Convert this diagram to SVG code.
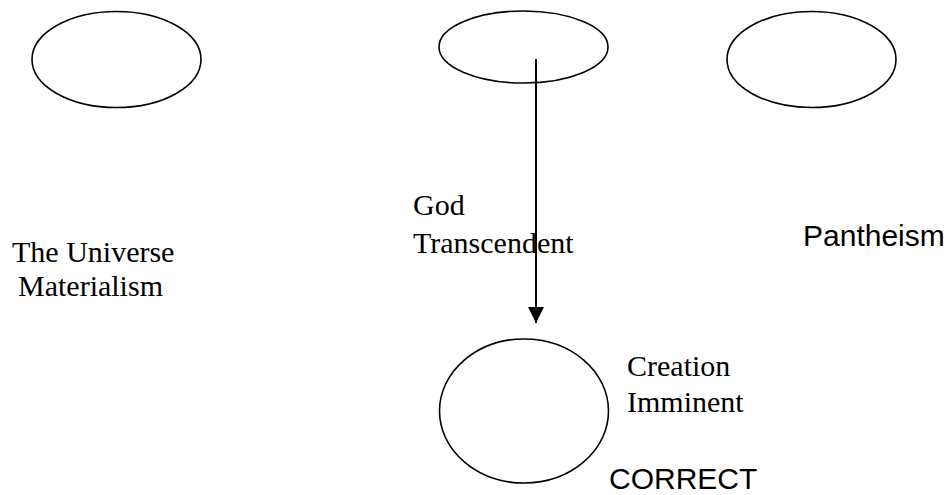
<svg xmlns="http://www.w3.org/2000/svg" width="946" height="495" viewBox="0 0 946 495">
<style>
.node{fill:none;stroke:#000;stroke-width:1.6}
.serif{font-family:"Liberation Serif","Times New Roman",serif;font-size:30px;fill:#000}
.sans{font-family:"Liberation Sans",Arial,sans-serif;font-size:30px;fill:#000}
.conn{stroke:#000;stroke-width:2;fill:none}
</style>
<defs>
<marker id="arrow" markerWidth="16" markerHeight="16" refX="16" refY="8" orient="auto" markerUnits="userSpaceOnUse">
<path d="M0,0 L16,8 L0,16 Z" fill="#000"/>
</marker>
</defs>
<rect width="946" height="495" fill="#fff"/>
<g id="universe">
<ellipse class="node" cx="116.5" cy="59.5" rx="84.5" ry="48"/>
<text class="serif" x="12" y="262">The Universe</text>
<text class="serif" x="18" y="296">Materialism</text>
</g>
<g id="god">
<ellipse class="node" cx="523.5" cy="47" rx="84.5" ry="36"/>
<text class="serif" x="413" y="215">God</text>
<text class="serif" x="413" y="253">Transcendent</text>
</g>
<g id="pantheism">
<ellipse class="node" cx="811.5" cy="59.5" rx="84.5" ry="48"/>
<text class="sans" x="803" y="246">Pantheism</text>
</g>
<g id="creation">
<ellipse class="node" cx="524" cy="411" rx="84.5" ry="72"/>
<text class="serif" x="627" y="376">Creation</text>
<text class="serif" x="627" y="412">Imminent</text>
<text class="sans" x="609" y="489">CORRECT</text>
</g>
<g id="connectors">
<line class="conn" x1="536" y1="59" x2="536" y2="323" marker-end="url(#arrow)"/>
</g>
</svg>
